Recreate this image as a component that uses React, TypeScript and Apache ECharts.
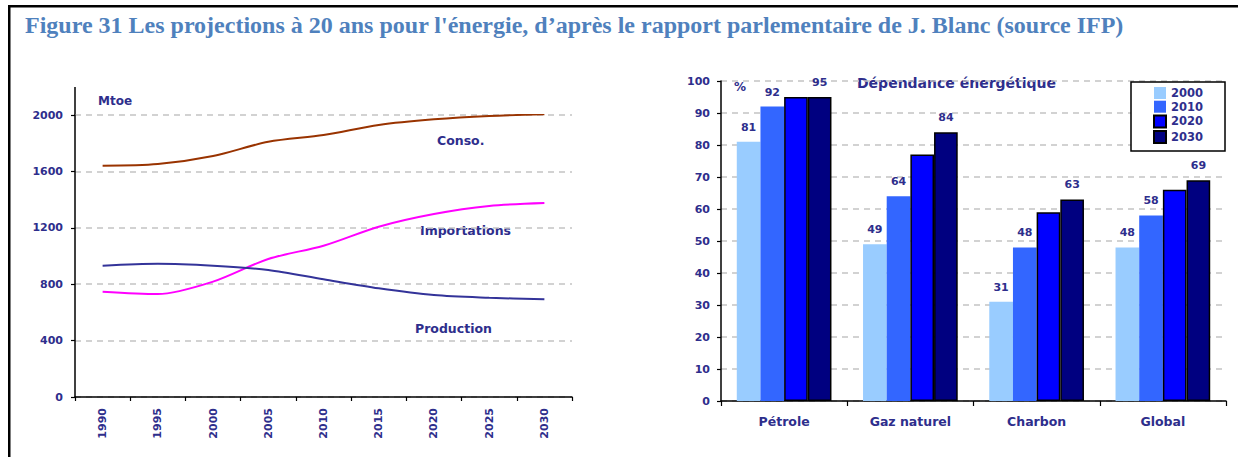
import React, { useEffect, useRef } from "react";
import * as echarts from "echarts";

// Left chart: Mtoe projections
const years = ["1990", "1995", "2000", "2005", "2010", "2015", "2020", "2025", "2030"];
const conso = [1640, 1652, 1709, 1810, 1858, 1929, 1969, 1993, 2005];
const importations = [747, 730, 818, 979, 1073, 1208, 1298, 1355, 1376];
const production = [931, 945, 931, 901, 835, 771, 723, 704, 693];

// Right chart: energy dependency (%)
const sources = ["Pétrole", "Gaz naturel", "Charbon", "Global"];
const depYears = ["2000", "2010", "2020", "2030"];
const dep2000 = [81, 49, 31, 48];
const dep2010 = [92, 64, 48, 58];
const dep2020 = [95, 77, 59, 66];
const dep2030 = [95, 84, 63, 69];

const TITLE =
  "Figure 31 Les projections à 20 ans pour l'énergie, d’après le rapport parlementaire de J. Blanc (source IFP)";

const NAVY = "#2e2e8c";
const FONT = "DejaVu Sans";

function txt(text: string, x: number, y: number, size: number, color = NAVY, family = FONT) {
  return {
    type: "text",
    x,
    y,
    silent: true,
    style: {
      text,
      fill: color,
      fontSize: size,
      fontFamily: family,
      fontWeight: "bold",
      align: "left",
      verticalAlign: "middle",
      textAlign: "left",
      textVerticalAlign: "middle",
    },
  };
}

export default function App() {
  const ref = useRef<HTMLDivElement>(null);
  useEffect(() => {
    if (!ref.current) return;
    const chart = echarts.init(ref.current, null, { renderer: "svg" });
    const axisLine = { show: true, lineStyle: { color: "#000", width: 1.5 } };
    const tick = { show: true, length: 4, lineStyle: { color: "#000", width: 1.2 } };
    const lbl = { color: NAVY, fontFamily: FONT, fontWeight: "bold" as const };
    const plain = (v: number) => String(v);
    const split = { show: true, lineStyle: { type: [6, 5], color: "#c4c4c4", width: 1.5 } };
    const barLabel = {
      show: true,
      position: "top",
      distance: 9,
      color: NAVY,
      fontFamily: FONT,
      fontWeight: "bold",
      fontSize: 11,
    };
    const colors = ["#99ccff", "#3366ff", "#0000ff", "#000080"];
    const depData = [dep2000, dep2010, dep2020, dep2030];
    const barSeries = depYears.map((y, i) => ({
      type: "bar",
      name: y,
      xAxisIndex: 1,
      yAxisIndex: 1,
      data: depData[i],
      barGap: "0%",
      barCategoryGap: "25%",
      itemStyle:
        i >= 2
          ? { color: colors[i], borderColor: "#000", borderWidth: 1.5 }
          : { color: colors[i] },
      label: i === 2 ? { show: false } : barLabel,
    }));

    chart.setOption({
      animation: false,
      backgroundColor: "#ffffff",
      grid: [
        { left: 75, top: 115, width: 497, height: 282 },
        { left: 721, top: 81, width: 505, height: 320 },
      ],
      xAxis: [
        {
          gridIndex: 0,
          type: "category",
          data: years,
          boundaryGap: true,
          axisLine,
          axisTick: { ...tick, interval: 0 },
          axisLabel: { ...lbl, rotate: 90, interval: 0, margin: 11, fontSize: 11 },
          splitLine: { show: false },
        },
        {
          gridIndex: 1,
          type: "category",
          data: sources,
          boundaryGap: true,
          axisLine,
          axisTick: { ...tick, length: 5, interval: 0 },
          axisLabel: { ...lbl, interval: 0, margin: 14, fontSize: 12.5 },
          splitLine: { show: false },
        },
      ],
      yAxis: [
        {
          gridIndex: 0,
          type: "value",
          min: 0,
          max: 2000,
          interval: 400,
          axisLine,
          axisTick: tick,
          axisLabel: { ...lbl, margin: 12, fontSize: 11, formatter: plain },
          splitLine: split,
        },
        {
          gridIndex: 1,
          type: "value",
          min: 0,
          max: 100,
          interval: 10,
          axisLine,
          axisTick: tick,
          axisLabel: { ...lbl, margin: 11, fontSize: 11, formatter: plain },
          splitLine: split,
        },
      ],
      legend: {
        data: depYears,
        orient: "vertical",
        left: 1131,
        top: 82,
        padding: [5, 22, 7, 22],
        itemWidth: 12,
        itemHeight: 12,
        itemGap: 1.7,
        itemTextGap: 3,
        icon: "rect",
        borderColor: "#000",
        borderWidth: 1.5,
        backgroundColor: "#fff",
        selectedMode: false,
        textStyle: { color: NAVY, fontFamily: FONT, fontWeight: "bold", fontSize: 11.5, lineHeight: 12 },
      },
      series: [
        {
          type: "line",
          name: "Conso.",
          xAxisIndex: 0,
          yAxisIndex: 0,
          data: conso,
          smooth: 0.3,
          symbol: "none",
          lineStyle: { color: "#993300", width: 2 },
        },
        {
          type: "line",
          name: "Importations",
          xAxisIndex: 0,
          yAxisIndex: 0,
          data: importations,
          smooth: 0.3,
          symbol: "none",
          lineStyle: { color: "#ff00ff", width: 2 },
        },
        {
          type: "line",
          name: "Production",
          xAxisIndex: 0,
          yAxisIndex: 0,
          data: production,
          smooth: 0.3,
          symbol: "none",
          lineStyle: { color: "#333399", width: 2 },
        },
        ...barSeries,
      ],
      graphic: [
        { type: "rect", silent: true, shape: { x: 8, y: 5, width: 1230, height: 2.5 }, style: { fill: "#000" } },
        { type: "rect", silent: true, shape: { x: 8, y: 5, width: 2.5, height: 452 }, style: { fill: "#000" } },
        {
          type: "line",
          silent: true,
          shape: { x1: 75, y1: 87, x2: 75, y2: 115 },
          style: { stroke: "#000", lineWidth: 1.5 },
        },
        txt(TITLE, 25, 25, 24, "#4f81bd", "Liberation Serif"),
        txt("Mtoe", 98, 101, 12),
        txt("Conso.", 437, 140, 12.5),
        txt("Importations", 420, 230, 12.5),
        txt("Production", 415, 328, 12.5),
        txt("%", 734, 87, 12),
        txt("Dépendance énergétique", 857, 83, 14),
      ],
    });
    return () => chart.dispose();
  }, []);
  return (
    <div
      ref={ref}
      style={{ position: "absolute", left: 0, top: 0, width: 1238, height: 457 }}
    />
  );
}
